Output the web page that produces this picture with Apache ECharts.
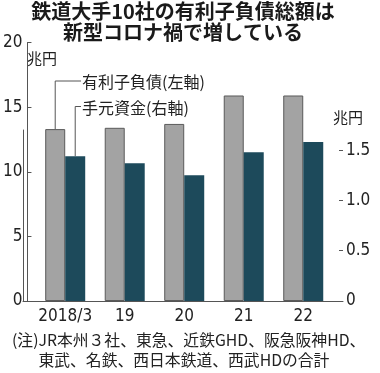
<!DOCTYPE html>
<html>
<head>
<meta charset="utf-8">
<script src="https://cdn.jsdelivr.net/npm/echarts@6/dist/echarts.min.js"></script>
<style>
html,body{margin:0;padding:0;background:#fff;}
#c{width:380px;height:373px;}
</style>
</head>
<body>
<div id="c"></div>
<script>
// ---- data ----
const categories = ['2018/3', '19', '20', '21', '22'];
const debt = [13.3, 13.4, 13.7, 15.9, 15.9];      // 有利子負債 (左軸, 兆円)
const cash = [1.44, 1.37, 1.25, 1.48, 1.58];      // 手元資金 (右軸, 兆円)
const leftTicks = [0, 5, 10, 15, 20];
const rightTicks = [0, 0.5, 1.0, 1.5];
const titleLines = ['鉄道大手10社の有利子負債総額は', '新型コロナ禍で増している'];
const seriesNames = ['有利子負債(左軸)', '手元資金(右軸)'];
const notePrefix = '(注)';
const noteLines = ['JR本州３社、東急、近鉄GHD、阪急阪神HD、', '東武、名鉄、西日本鉄道、西武HDの合計'];
const unitLabel = '兆円';

// ---- layout ----
const W = 380, H = 373;
const plotTop = 42.5, plotBottom = 301;
const frameLeft = 23, frameRight = 343;
const catLeft = 31, catRight = 333;
const rightLineTop = 130;
const rightVisibleMax = 1.7;
const rightMax = rightVisibleMax * (plotBottom - plotTop) / (plotBottom - rightLineTop);
const barW = 20;
const NUM_FONT = "'Liberation Sans Narrow','DejaVu Sans Condensed','Noto Sans CJK JP',sans-serif";
const JP_FONT = "'Noto Sans CJK JP','Noto Sans',sans-serif";
const axisColor = '#555';
const textColor = '#222';

const chart = echarts.init(document.getElementById('c'), null, {renderer: 'canvas'});

const option = {
  animation: false,
  backgroundColor: '#fff',
  grid: [
    {left: catLeft, right: W - catRight, top: plotTop, bottom: H - plotBottom},
    {left: frameLeft, right: W - frameRight, top: rightLineTop, bottom: H - plotBottom}
  ],
  xAxis: [
    {
      type: 'category', data: categories, gridIndex: 0,
      axisLine: {show: false}, axisTick: {show: false},
      axisLabel: {color: textColor, fontFamily: NUM_FONT, fontSize: 17, margin: 7, interval: 0}
    },
    {
      type: 'value', gridIndex: 1, min: 0, max: 1,
      axisLine: {show: true, lineStyle: {color: axisColor, width: 1}},
      axisTick: {show: false}, axisLabel: {show: false}, splitLine: {show: false}
    }
  ],
  yAxis: [
    {
      type: 'value', gridIndex: 0, position: 'left', offset: catLeft - frameLeft,
      min: 0, max: 20, interval: 5,
      axisLine: {show: true, lineStyle: {color: axisColor, width: 1}},
      axisTick: {show: true, inside: true, length: 4, lineStyle: {color: axisColor}},
      axisLabel: {color: textColor, fontFamily: NUM_FONT, fontSize: 17, margin: 5,
        customValues: leftTicks},
      splitLine: {show: false}
    },
    {
      type: 'value', gridIndex: 0, position: 'right', offset: frameRight - catRight,
      min: 0, max: rightMax,
      axisLine: {show: false},
      axisTick: {show: true, inside: true, length: 4, lineStyle: {color: axisColor},
        customValues: rightTicks},
      axisLabel: {color: textColor, fontFamily: NUM_FONT, fontSize: 17, margin: 3,
        customValues: rightTicks,
        formatter: v => v === 0 ? '0' : v.toFixed(1)},
      splitLine: {show: false}
    },
    {
      type: 'value', gridIndex: 1, position: 'right', min: 0, max: 1,
      axisLine: {show: true, lineStyle: {color: axisColor, width: 1}},
      axisTick: {show: false}, axisLabel: {show: false}, splitLine: {show: false}
    }
  ],
  series: [
    {
      name: seriesNames[0], type: 'bar', xAxisIndex: 0, yAxisIndex: 0,
      data: debt, barWidth: barW, barGap: '0%',
      itemStyle: {color: '#a3a3a3', borderColor: '#5a5a5a', borderWidth: 1}
    },
    {
      name: seriesNames[1], type: 'bar', xAxisIndex: 0, yAxisIndex: 1,
      data: cash, barWidth: barW, barGap: '0%',
      itemStyle: {color: '#1d4a5b', borderColor: '#1d4a5b', borderWidth: 0}
    }
  ]
};
chart.setOption(option);

// ---- annotations (leader lines tied to first bars via axis scales) ----
const p0 = chart.convertToPixel({xAxisIndex: 0, yAxisIndex: 0}, [categories[0], debt[0]]);
const p1 = chart.convertToPixel({xAxisIndex: 0, yAxisIndex: 1}, [categories[0], cash[0]]);
const gx = p0[0] - barW / 2, dx = p1[0] + barW / 2;
const labelX = 81, lab1Y = 81, lab2Y = 106.5;
const titleFont = 'bold 20px ' + JP_FONT;
const noteFont = '15.8px ' + JP_FONT;

const ctx = document.createElement('canvas').getContext('2d');
ctx.font = noteFont;
const prefixW = ctx.measureText(notePrefix).width;

const graphics = [
  {type: 'text', style: {text: titleLines[0], x: 183, y: 11.5, textAlign: 'center', textVerticalAlign: 'middle',
    font: titleFont, fill: '#1a1a1a'}},
  {type: 'text', style: {text: titleLines[1], x: 183, y: 32, textAlign: 'center', textVerticalAlign: 'middle',
    font: titleFont, fill: '#1a1a1a'}},
  {type: 'text', style: {text: unitLabel, x: 27, y: 58, textAlign: 'left', textVerticalAlign: 'middle',
    font: '15px ' + JP_FONT, fill: textColor}},
  {type: 'text', style: {text: unitLabel, x: 333, y: 117, textAlign: 'left', textVerticalAlign: 'middle',
    font: '15px ' + JP_FONT, fill: textColor}},
  {type: 'polyline', shape: {points: [[gx, p0[1]], [gx, lab1Y], [labelX, lab1Y]]},
    style: {stroke: '#555', lineWidth: 1, fill: null}},
  {type: 'polyline', shape: {points: [[dx, p1[1]], [dx, lab2Y], [labelX, lab2Y]]},
    style: {stroke: '#555', lineWidth: 1, fill: null}},
  {type: 'text', style: {text: seriesNames[0], x: labelX + 1, y: lab1Y + 1, textAlign: 'left', textVerticalAlign: 'middle',
    font: '16px ' + JP_FONT, fill: textColor}},
  {type: 'text', style: {text: seriesNames[1], x: labelX + 1, y: lab2Y + 1, textAlign: 'left', textVerticalAlign: 'middle',
    font: '16px ' + JP_FONT, fill: textColor}},
  {type: 'text', style: {text: notePrefix + noteLines[0], x: 12, y: 340, textAlign: 'left', textVerticalAlign: 'middle',
    font: noteFont, fill: textColor}},
  {type: 'text', style: {text: noteLines[1], x: 12 + prefixW, y: 360, textAlign: 'left', textVerticalAlign: 'middle',
    font: noteFont, fill: textColor}}
];
chart.setOption({graphic: graphics});
</script>
</body>
</html>
